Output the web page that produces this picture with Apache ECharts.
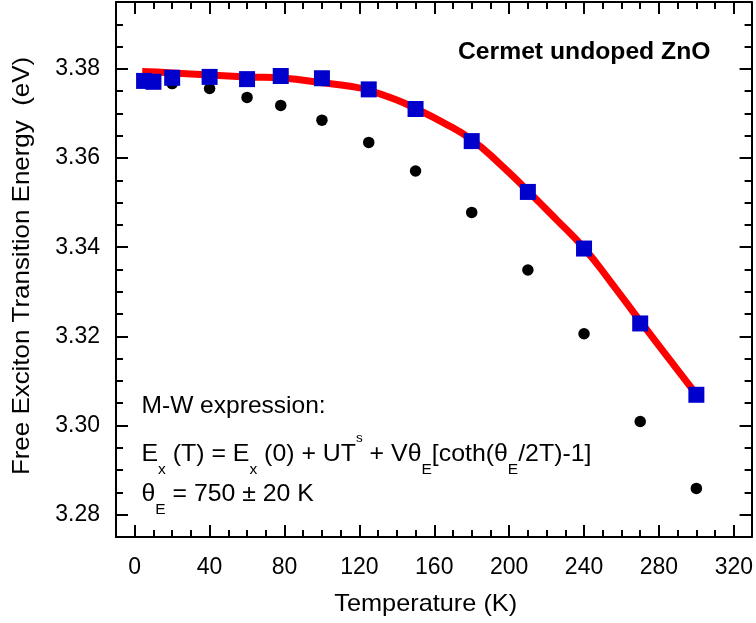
<!DOCTYPE html>
<html>
<head>
<meta charset="utf-8">
<script src="https://cdn.jsdelivr.net/npm/echarts@6/dist/echarts.min.js"></script>
<style>
  html, body { margin: 0; padding: 0; background: #fff; }
  #chart { width: 756px; height: 623px; }
</style>
</head>
<body>
<div id="chart"></div>
<script>
const FONT = '"Liberation Sans", Arial, Helvetica, sans-serif';

// Free exciton transition energy vs temperature (blue squares)
const temperatureK = [5, 10, 20, 40, 60, 78, 100, 125, 150, 180, 210, 240, 270, 300];
const freeExcitonEnergy = [3.3773, 3.3771, 3.3780, 3.3782, 3.3777, 3.3784, 3.3779,
                           3.3754, 3.3710, 3.3638, 3.3524, 3.3397, 3.3229, 3.3069];

// Second set of peak energies (black dots)
const dotTemperatureK = [20, 40, 60, 78, 100, 125, 150, 180, 210, 240, 270, 300];
const dotEnergy = [3.3767, 3.3756, 3.3736, 3.3718, 3.3685, 3.3635,
                   3.3571, 3.3478, 3.3349, 3.3206, 3.3009, 3.2859];

// Manoogian-Woolley fit curve (red line)
const fitTemperatureK = [4, 20, 40, 60, 80, 100, 115, 125, 140, 150, 165, 180,
                         195, 210, 225, 240, 255, 270, 285, 300];
const fitEnergy = [3.3794, 3.3791, 3.3786, 3.3782, 3.3779, 3.3769, 3.3761, 3.3752,
                   3.3730, 3.3711, 3.3679, 3.3641, 3.3587, 3.3526, 3.3463, 3.3398,
                   3.3318, 3.3234, 3.3152, 3.3070];

// Axis ticks
const xMajorTicks = [0, 40, 80, 120, 160, 200, 240, 280, 320];
const xMinorTicks = [0, 10, 20, 30, 40, 50, 60, 70, 80, 90, 100, 110, 120, 130, 140, 150, 160,
                     170, 180, 190, 200, 210, 220, 230, 240, 250, 260, 270, 280, 290, 300, 310, 320];
const yMajorTicks = [3.28, 3.30, 3.32, 3.34, 3.36, 3.38];
const yMinorTicks = [3.275, 3.28, 3.285, 3.29, 3.295, 3.30, 3.305, 3.31, 3.315, 3.32, 3.325,
                     3.33, 3.335, 3.34, 3.345, 3.35, 3.355, 3.36, 3.365, 3.37, 3.375, 3.38,
                     3.385, 3.39, 3.395];

const X_MIN = -10, X_MAX = 329.5;
const Y_MIN = 3.275, Y_MAX = 3.395;

const pairs = (xs, ys) => xs.map((x, i) => [x, ys[i]]);

const tickLine = { color: '#000', width: 2 };

function xAxisDef(position, ticks, len, withLine, withLabels) {
  return {
    type: 'value', position, min: X_MIN, max: X_MAX,
    splitLine: { show: false },
    axisLine: { show: withLine, onZero: false, lineStyle: tickLine },
    axisTick: { show: true, inside: true, length: len, customValues: ticks, lineStyle: tickLine },
    axisLabel: withLabels
      ? { show: true, customValues: ticks, margin: 19, fontSize: 23, fontFamily: FONT, color: '#000' }
      : { show: false, customValues: ticks }
  };
}

function yAxisDef(position, ticks, len, withLine, withLabels) {
  return {
    type: 'value', position, min: Y_MIN, max: Y_MAX,
    splitLine: { show: false },
    axisLine: { show: withLine, onZero: false, lineStyle: tickLine },
    axisTick: { show: true, inside: true, length: len, customValues: ticks, lineStyle: tickLine },
    axisLabel: withLabels
      ? { show: true, customValues: ticks, margin: 16, fontSize: 23, fontFamily: FONT, color: '#000',
          formatter: v => v.toFixed(2) }
      : { show: false, customValues: ticks }
  };
}

const chart = echarts.init(document.getElementById('chart'), null, { renderer: 'canvas' });

chart.setOption({
  animation: false,
  backgroundColor: '#fff',
  grid: { left: 116, top: 2, right: 2, bottom: 86, containLabel: false },
  xAxis: [
    xAxisDef('bottom', xMajorTicks, 12, true, true),
    xAxisDef('bottom', xMinorTicks, 7, false, false),
    xAxisDef('top', xMajorTicks, 12, true, false),
    xAxisDef('top', xMinorTicks, 7, false, false)
  ],
  yAxis: [
    yAxisDef('left', yMajorTicks, 12, true, true),
    yAxisDef('left', yMinorTicks, 7, false, false),
    yAxisDef('right', yMajorTicks, 12, true, false),
    yAxisDef('right', yMinorTicks, 7, false, false)
  ],
  series: [
    {
      name: 'peakPosition', type: 'scatter', xAxisIndex: 0, yAxisIndex: 0,
      symbol: 'circle', symbolSize: 11.5,
      itemStyle: { color: '#000', opacity: 1 },
      data: pairs(dotTemperatureK, dotEnergy), z: 2
    },
    {
      name: 'mwFit', type: 'line', xAxisIndex: 0, yAxisIndex: 0,
      smooth: 0.5, showSymbol: false,
      lineStyle: { color: '#ff0000', width: 7 },
      data: pairs(fitTemperatureK, fitEnergy), z: 3
    },
    {
      name: 'freeExciton', type: 'scatter', xAxisIndex: 0, yAxisIndex: 0,
      symbol: 'rect', symbolSize: 16,
      itemStyle: { color: '#0000cc', opacity: 1 },
      data: pairs(temperatureK, freeExcitonEnergy), z: 4
    }
  ],
  graphic: [
    {
      type: 'text', x: 22, y: 266, rotation: Math.PI / 2, scaleX: 1.08,
      style: { text: 'Free Exciton Transition Energy  (eV)', fontSize: 24, fontFamily: FONT,
               fill: '#000', align: 'center', verticalAlign: 'middle' }
    },
    {
      type: 'text', x: 425.7, y: 604, scaleX: 1.055,
      style: { text: 'Temperature (K)', fontSize: 24, fontFamily: FONT,
               fill: '#000', align: 'center', verticalAlign: 'middle' }
    },
    {
      type: 'text', x: 458, y: 52, scaleX: 1.029,
      style: { text: 'Cermet undoped ZnO', fontSize: 24, fontWeight: 'bold', fontFamily: FONT,
               fill: '#000', align: 'left', verticalAlign: 'middle' }
    },
    {
      type: 'text', x: 141.5, y: 406.7, scaleX: 1.023,
      style: { text: 'M-W expression:', fontSize: 24, fontFamily: FONT,
               fill: '#000', align: 'left', verticalAlign: 'middle' }
    },
    {
      type: 'text', x: 141.5, y: 431.7, scaleX: 1.036,
      style: {
        text: '{m|E}{sub|x}{m| (T) = E}{sub|x}{m| (0) + UT}{sup|s}{m| + V\u03B8}{sub|E}{m|[coth(\u03B8}{sub|E}{m|/2T)-1]}',
        fontSize: 24, fontFamily: FONT, fill: '#000', align: 'left', verticalAlign: 'top',
        rich: {
          m: { fontSize: 24, fontFamily: FONT, lineHeight: 46, fill: '#000' },
          sub: { fontSize: 15, fontFamily: FONT, lineHeight: 21, verticalAlign: 'bottom', fill: '#000' },
          sup: { fontSize: 13, fontFamily: FONT, lineHeight: 15, verticalAlign: 'top', fill: '#000' }
        }
      }
    },
    {
      type: 'text', x: 141.5, y: 471.7, scaleX: 1.034,
      style: {
        text: '{m|\u03B8}{sub|E}{m| = 750 \u00B1 20 K}',
        fontSize: 24, fontFamily: FONT, fill: '#000', align: 'left', verticalAlign: 'top',
        rich: {
          m: { fontSize: 24, fontFamily: FONT, lineHeight: 46, fill: '#000' },
          sub: { fontSize: 15, fontFamily: FONT, lineHeight: 14, verticalAlign: 'bottom', fill: '#000' }
        }
      }
    }
  ]
});
</script>
</body>
</html>
